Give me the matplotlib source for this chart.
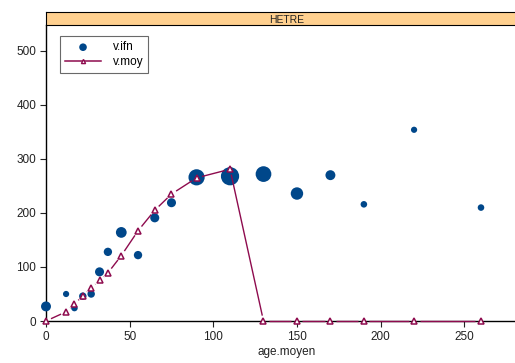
import matplotlib.pyplot as plt
import numpy as np

plt.rcParams['font.family'] = ['Liberation Sans', 'DejaVu Sans']

# volume moyen observe (IFN) par classe d'age, taille = nombre de placettes
age_ifn = [0, 12, 17, 22, 27, 32, 37, 45, 55, 65, 75, 90, 110, 130, 150, 170, 190, 220, 260]
v_ifn = [27, 50, 24, 46, 50, 91, 128, 164, 122, 191, 219, 266, 268, 272, 236, 270, 216, 354, 210]
n_placettes = [64, 25, 28, 36, 36, 53, 45, 75, 45, 53, 53, 170, 215, 160, 100, 64, 28, 25, 28]

# volume moyen modele
age_moy = [0, 12, 17, 22, 27, 32, 37, 45, 55, 65, 75, 90, 110, 130, 150, 170, 190, 220, 260]
v_moy = [0, 17, 31, 47, 61, 75, 89, 121, 167, 205, 235, 265, 281, 0, 0, 0, 0, 0, 0]

blue = '#00478a'
red = '#8e0b4e'

fig = plt.figure(figsize=(5.15, 3.63), dpi=100)
W, H = 515, 363
left, right, top, bottom = 46, 527, 25, 321
ax = fig.add_axes([left / W, 1 - bottom / H, (right - left) / W, (bottom - top) / H])
ax.set_xlim(0, 287.5)
ax.set_ylim(0, 548)

# bandeau du panneau
strip = fig.add_axes([left / W, 1 - top / H, (right - left) / W, 13 / H])
strip.set_xticks([])
strip.set_yticks([])
strip.set_facecolor('#ffd08f')
for s in strip.spines.values():
    s.set_linewidth(0.8)
strip.text(0.5, 0.42, 'HETRE', ha='center', va='center', fontsize=7.5,
           color='#222222', transform=strip.transAxes)

for side in ['top', 'right']:
    ax.spines[side].set_visible(False)
for side in ['left', 'bottom']:
    ax.spines[side].set_linewidth(1.0)
ax.tick_params(length=4, width=0.8, labelsize=8.5, pad=3, colors='#222222')
ax.set_xticks([0, 50, 100, 150, 200, 250])
ax.set_yticks([0, 100, 200, 300, 400, 500])
ax.set_xlabel('age.moyen', fontsize=8.5, labelpad=2, color='#222222')

sizes = np.array(n_placettes) * 0.8
ax.scatter(age_ifn, v_ifn, s=sizes, color=blue, edgecolors='none', zorder=3,
           clip_on=False)

# lignes interrompues autour des points (type "b")
fig.canvas.draw()
pts = ax.transData.transform(np.column_stack([age_moy, v_moy]))
inv = ax.transData.inverted()
gap = 5.5 * fig.dpi / 100
for p0, p1 in zip(pts[:-1], pts[1:]):
    d = p1 - p0
    L = np.hypot(*d)
    if L <= 2 * gap:
        continue
    u = d / L
    a = inv.transform(p0 + u * gap)
    b = inv.transform(p1 - u * gap)
    ax.plot([a[0], b[0]], [a[1], b[1]], color=red, lw=1.0, zorder=4,
            solid_capstyle='butt', clip_on=False)
ax.plot(age_moy, v_moy, ls='none', marker='^', ms=4, mfc='white', mec=red,
        mew=1.1, zorder=5, clip_on=False)

h1 = ax.scatter([], [], s=30, color=blue, edgecolors='none')
h2, = ax.plot([], [], color=red, lw=1.1, marker='^', ms=3, mfc='white', mec=red)
leg = ax.legend([h1, h2], ['v.ifn', 'v.moy'], loc='upper left',
                bbox_to_anchor=(14 / (right - left), 1 - 11 / (bottom - top)),
                fontsize=8.5, frameon=True, fancybox=False, borderaxespad=0,
                handlelength=3, handletextpad=1.0, borderpad=0.45,
                labelspacing=0.2, numpoints=1, scatterpoints=1)
leg.get_frame().set_edgecolor('#444444')
leg.get_frame().set_linewidth(0.8)

fig.savefig('out.png', dpi=100)
